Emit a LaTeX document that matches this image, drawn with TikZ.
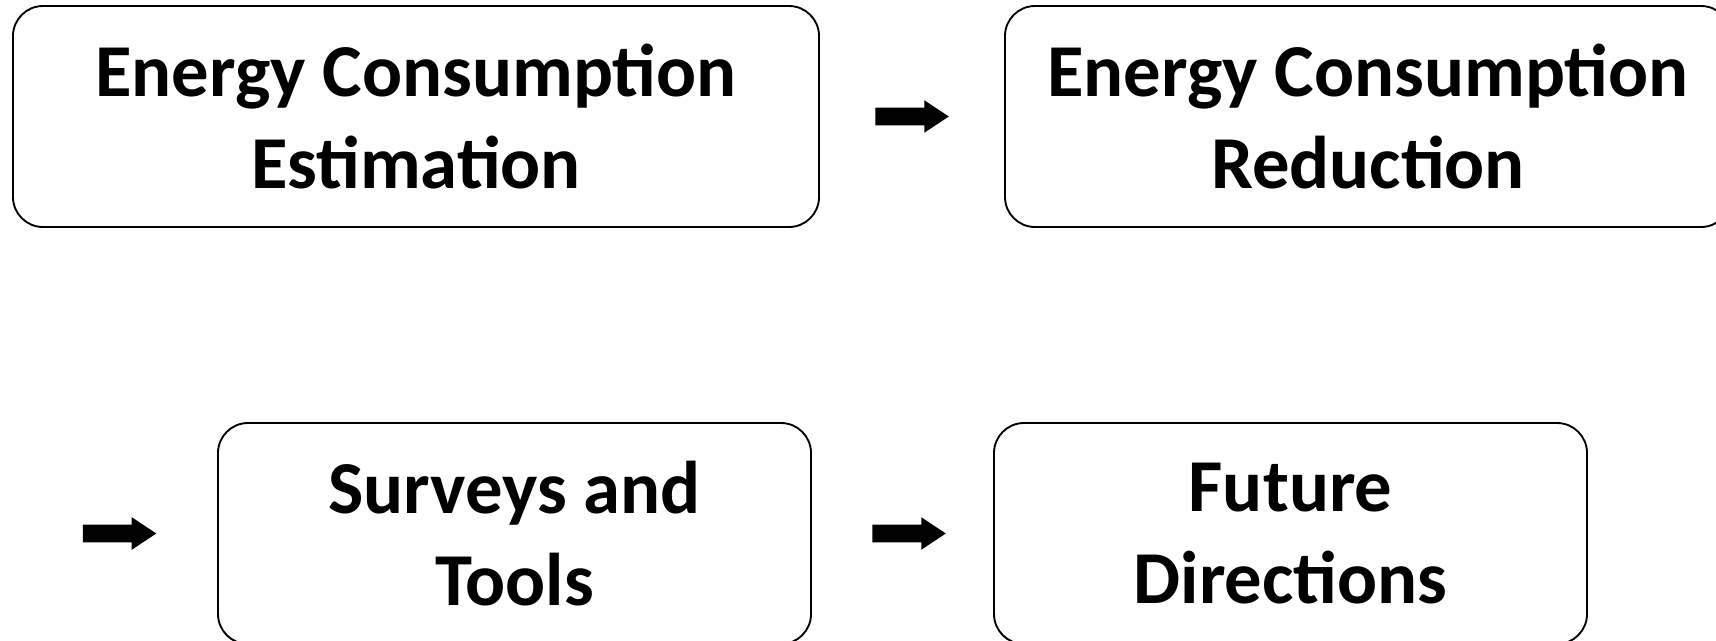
\documentclass[tikz,border=0pt]{standalone}
\usepackage{fontspec}
\setmainfont{Carlito}
\usetikzlibrary{shapes.arrows}

\tikzset{
    stage/.style={draw, line width=1.4pt, rounded corners=22.5pt,
        minimum height=165.75pt, align=center, inner sep=0pt,
        font=\bfseries\fontsize{56}{69}\selectfont},
    flow/.style={single arrow, fill=black, draw=none,
        inner xsep=0pt, inner ysep=6.4pt, minimum height=55pt,
        single arrow head extend=5.6pt, single arrow tip angle=67}
}

\begin{document}
\begin{tikzpicture}[x=0.75pt, y=-0.75pt]
\useasboundingbox (0,0) rectangle (1716,640);

% top row
\node[stage, minimum width=604.5pt] (est) at (416,116.5)
    {Energy Consumption\\Estimation};
\node[flow] (a1) at (905.5,116.5) {};
\node[stage, minimum width=544.5pt] (red) at (1368,116.5)
    {Energy Consumption\\Reduction};

% bottom row
\node[flow] (a2) at (113,533.5) {};
\node[stage, minimum width=444.75pt] (surv) at (514.5,533.5)
    {Surveys and\\Tools};
\node[flow] (a3) at (902.5,533.5) {};
\node[stage, minimum width=444.75pt] (fut) at (1290.5,533.5)
    {Future\\Directions};

\end{tikzpicture}
\end{document}
